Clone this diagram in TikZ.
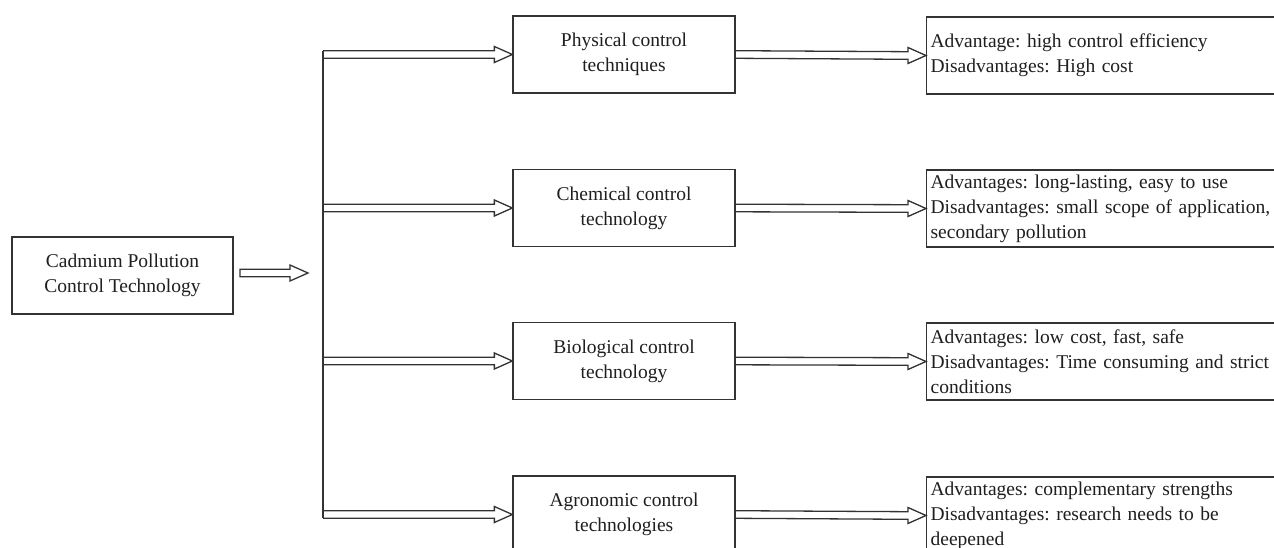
\documentclass[tikz,border=0pt]{standalone}
\usepackage{fontspec}
\setmainfont{Liberation Serif}
\usetikzlibrary{calc}
\frenchspacing
\newcommand{\hollowarr}[2]{%
  \draw[conn] ($(#1)+(0,-3.8)$) -- ($(#2)+(-18,-3.8)$) -- ($(#2)+(-18,-8)$) -- (#2)
    -- ($(#2)+(-18,8)$) -- ($(#2)+(-18,3.8)$) -- ($(#1)+(0,3.8)$);}
\tikzset{
  conn/.style={draw=black!80, line width=1.3pt, line join=miter},
  box/.style={draw=black!80, line width=1.3pt, minimum height=77pt, inner sep=0pt,
    align=center, text=black!88, font=\frenchspacing\fontsize{19.5}{25}\selectfont},
  midbox/.style={box, minimum width=222pt},
  infobox/.style={box, text width=396pt, inner xsep=4pt, align=left, anchor=west},
}
\begin{document}
\begin{tikzpicture}[x=1pt,y=-1pt]
\clip (0,0) rectangle (1274,548);
\fill[white] (0,0) rectangle (1274,548);
% left box
\node[box, minimum width=221pt] (src) at (122.5,275.5) {Cadmium Pollution\\Control Technology};
\coordinate (a0) at (240,273);
\coordinate (a1) at (308,273);
\draw[conn] ($(a0)+(0,-3.8)$) -- ($(a1)+(-18,-3.8)$) -- ($(a1)+(-18,-8)$) -- (a1)
  -- ($(a1)+(-18,8)$) -- ($(a1)+(-18,3.8)$) -- ($(a0)+(0,3.8)$) -- cycle;
% middle boxes
\node[midbox] (m1) at (624,54.5) {Physical control\\techniques};
\node[midbox] (m2) at (624,208) {Chemical control\\technology};
\node[midbox] (m3) at (624,361) {Biological control\\technology};
\node[midbox] (m4) at (624,514.5) {Agronomic control\\technologies};
% right boxes
\node[infobox] (r1) at (926,55.5) {Advantage: high control efficiency\\Disadvantages: High cost};
\node[infobox] (r2) at (926,208.5) {Advantages: long-lasting, easy to use\\Disadvantages: small scope of application,\\secondary pollution};
\node[infobox] (r3) at (926,361.5) {Advantages: low cost, fast, safe\\Disadvantages: Time consuming and strict\\conditions};
\node[infobox] (r4) at (926,515.5) {Advantages: complementary strengths\\Disadvantages: research needs to be\\deepened};
% trunk
\coordinate (v1) at (323,54.5);
\coordinate (v2) at (323,208);
\coordinate (v3) at (323,361);
\coordinate (v4) at (323,514.5);
\draw[conn] ($(v1)+(0,-3.8)$) -- ($(v4)+(0,3.8)$);
\hollowarr{v1}{m1.west}
\hollowarr{v2}{m2.west}
\hollowarr{v3}{m3.west}
\hollowarr{v4}{m4.west}
\hollowarr{m1.east}{r1.west}
\hollowarr{m2.east}{r2.west}
\hollowarr{m3.east}{r3.west}
\hollowarr{m4.east}{r4.west}
\end{tikzpicture}
\end{document}
